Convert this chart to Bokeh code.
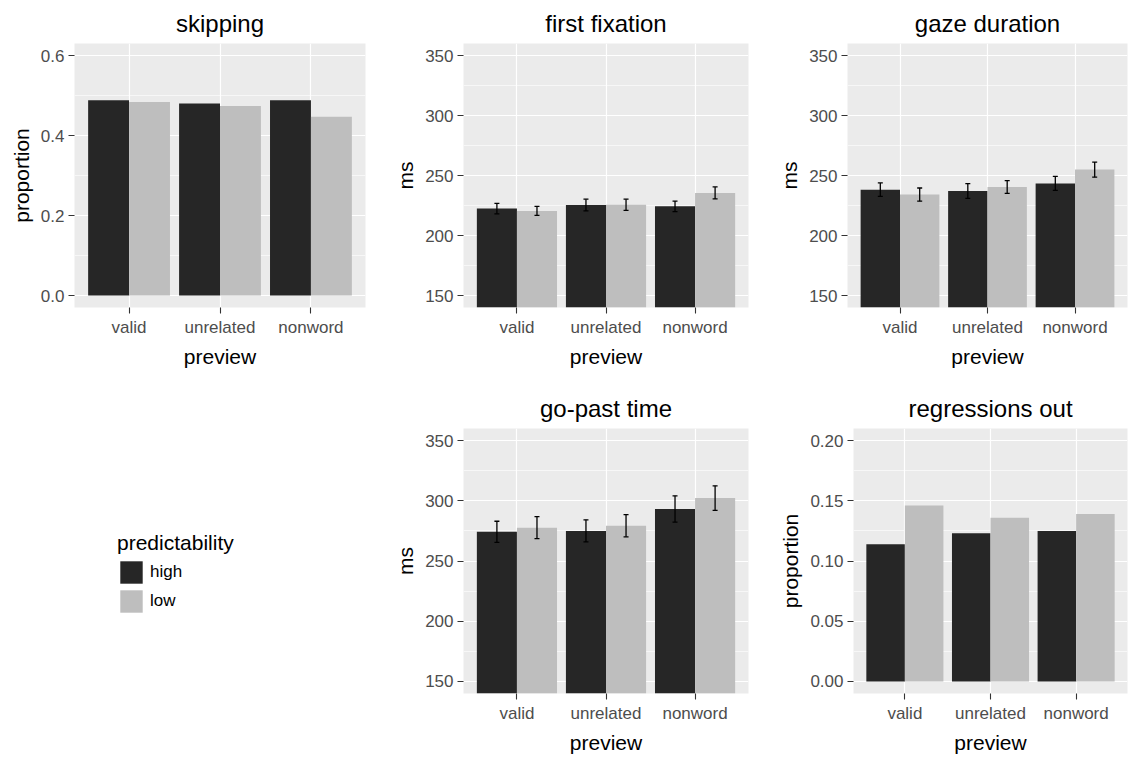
from bokeh.plotting import figure
from bokeh.models import (ColumnDataSource, FactorRange, Range1d, FixedTicker,
                          PrintfTickFormatter, Whisker, TeeHead, Legend, LegendItem)
from bokeh.layouts import row, column
from bokeh.transform import dodge
from bokeh.embed import file_html
from bokeh.resources import INLINE

# ---------------- data ----------------
previews = ["valid", "unrelated", "nonword"]
preds = ["high", "low"]

skip_high = [0.488, 0.480, 0.488]
skip_low = [0.484, 0.474, 0.447]

ff_high = [222.4, 225.4, 224.3]
ff_low = [220.5, 225.6, 235.5]
ff_high_se = [4.3, 4.9, 4.4]
ff_low_se = [3.7, 4.7, 5.0]

gd_high = [238.2, 237.1, 243.4]
gd_low = [234.1, 240.4, 254.9]
gd_high_se = [5.6, 6.1, 5.8]
gd_low_se = [5.5, 5.3, 6.3]

gp_high = [274.2, 275.0, 293.2]
gp_low = [277.7, 279.3, 302.2]
gp_high_se = [8.8, 9.2, 10.9]
gp_low_se = [9.1, 9.2, 10.2]

ro_high = [0.114, 0.123, 0.125]
ro_low = [0.146, 0.136, 0.139]

prop_ticks = [0.0, 0.2, 0.4, 0.6]
prop_minor = [0.1, 0.3, 0.5]
ms_ticks = [150, 200, 250, 300, 350]
ms_minor = [175, 225, 275, 325]
ro_ticks = [0.0, 0.05, 0.10, 0.15, 0.20]
ro_minor = [0.025, 0.075, 0.125, 0.175]

# ---------------- style ----------------
FONT = "Liberation Sans"
HIGH_C = "#262626"
LOW_C = "#BEBEBE"
PANEL_BG = "#EBEBEB"
PRED_COLORS = [HIGH_C, LOW_C]


def panel(title, ylabel, high, low, ylo, yhi, major, minor, fmt,
          high_se, low_se, width, height, bl, br, bt, bb):
    p = figure(width=width, height=height,
               x_range=FactorRange(factors=previews, range_padding=0.2 / 3),
               y_range=Range1d(ylo, yhi),
               output_backend="svg", toolbar_location=None,
               min_border_left=bl, min_border_right=br,
               min_border_top=bt, min_border_bottom=bb, title=title)
    p.background_fill_color = PANEL_BG
    p.border_fill_color = "white"
    p.outline_line_color = None

    for vals, se, off, color in ((high, high_se, -0.225, HIGH_C),
                                 (low, low_se, 0.225, LOW_C)):
        data = dict(preview=previews, top=vals)
        if se is not None:
            data["upper"] = [v + s for v, s in zip(vals, se)]
            data["lower"] = [v - s for v, s in zip(vals, se)]
        src = ColumnDataSource(data)
        p.vbar(x=dodge("preview", off, range=p.x_range), top="top", bottom=0,
               width=0.45, fill_color=color, line_color=None, source=src)
        if se is not None:
            w = Whisker(base=dodge("preview", off, range=p.x_range),
                        upper="upper", lower="lower", source=src,
                        line_color="black", line_width=1.3, level="overlay",
                        upper_head=TeeHead(size=5, line_color="black", line_width=1.3),
                        lower_head=TeeHead(size=5, line_color="black", line_width=1.3))
            p.add_layout(w)

    p.title.text_font = FONT
    p.title.text_font_size = "24px"
    p.title.text_font_style = "normal"
    p.title.text_color = "black"
    p.title.align = "center"
    p.title.standoff = 14

    for ax in (p.xaxis, p.yaxis):
        ax.axis_line_color = None
        ax.major_tick_line_color = "#333333"
        ax.major_tick_line_width = 1.1
        ax.major_tick_out = 6
        ax.major_tick_in = 0
        ax.minor_tick_line_color = None
        ax.major_label_text_font = FONT
        ax.major_label_text_font_size = "17px"
        ax.major_label_text_color = "#4D4D4D"
        ax.axis_label_text_font = FONT
        ax.axis_label_text_font_size = "21px"
        ax.axis_label_text_font_style = "normal"
        ax.axis_label_text_color = "black"
        ax.major_label_standoff = 4
        ax.axis_label_standoff = 5

    p.xaxis.axis_label = "preview"
    p.yaxis.axis_label = ylabel
    p.yaxis.ticker = FixedTicker(ticks=major, minor_ticks=minor)
    p.yaxis.formatter = PrintfTickFormatter(format=fmt)

    p.xgrid.grid_line_color = "white"
    p.xgrid.grid_line_width = 1.2
    p.ygrid.grid_line_color = "white"
    p.ygrid.grid_line_width = 1.2
    p.ygrid.minor_grid_line_color = "white"
    p.ygrid.minor_grid_line_width = 0.6
    return p


TOP_H, BOT_H = 370, 386

f1 = panel("skipping", "proportion", skip_high, skip_low, -0.03, 0.63,
           prop_ticks, prop_minor, "%.1f", None, None,
           370, TOP_H, 74, 5, 43, 58)
f2 = panel("first fixation", "ms", ff_high, ff_low, 140, 360,
           ms_ticks, ms_minor, "%d", ff_high_se, ff_low_se,
           380, TOP_H, 93, 2, 43, 58)
f3 = panel("gaze duration", "ms", gd_high, gd_low, 140, 360,
           ms_ticks, ms_minor, "%d", gd_high_se, gd_low_se,
           378, TOP_H, 97, 1, 43, 58)
f4 = panel("go-past time", "ms", gp_high, gp_low, 140, 360,
           ms_ticks, ms_minor, "%d", gp_high_se, gp_low_se,
           380, BOT_H, 93, 2, 58, 60)
f5 = panel("regressions out", "proportion", ro_high, ro_low, -0.01, 0.21,
           ro_ticks, ro_minor, "%.2f", None, None,
           378, BOT_H, 103, 1, 58, 60)

# legend-only figure (key swatches come from zero-height bars, one per level)
lg = figure(width=370, height=BOT_H, x_range=Range1d(0, 1), y_range=Range1d(0, 1),
            output_backend="svg", toolbar_location=None, title=None,
            min_border_left=0, min_border_right=0, min_border_top=0, min_border_bottom=0,
            x_axis_location=None, y_axis_location=None)
lg.outline_line_color = None
lg.grid.visible = False
lg.background_fill_color = "white"
lg.border_fill_color = "white"
items = []
for lab, col in zip(preds, PRED_COLORS):
    r = lg.vbar(x=[0.5], top=[0.0], bottom=[0.0], width=0.0,
                fill_color=col, line_color=None)
    items.append(LegendItem(label=lab, renderers=[r]))
legend = Legend(items=items, location=(117, 78), title="predictability",
                glyph_width=28, glyph_height=28, label_height=28,
                label_standoff=5, spacing=1, padding=0, margin=0,
                label_text_font=FONT, label_text_font_size="17px",
                label_text_color="black",
                title_text_font=FONT, title_text_font_size="21px",
                title_text_font_style="normal", title_text_color="black",
                title_standoff=3,
                border_line_color=None, background_fill_alpha=0)
lg.add_layout(legend)

layout = column(row(f1, f2, f3), row(lg, f4, f5))

open("out.html", "w").write(file_html(layout, INLINE))
